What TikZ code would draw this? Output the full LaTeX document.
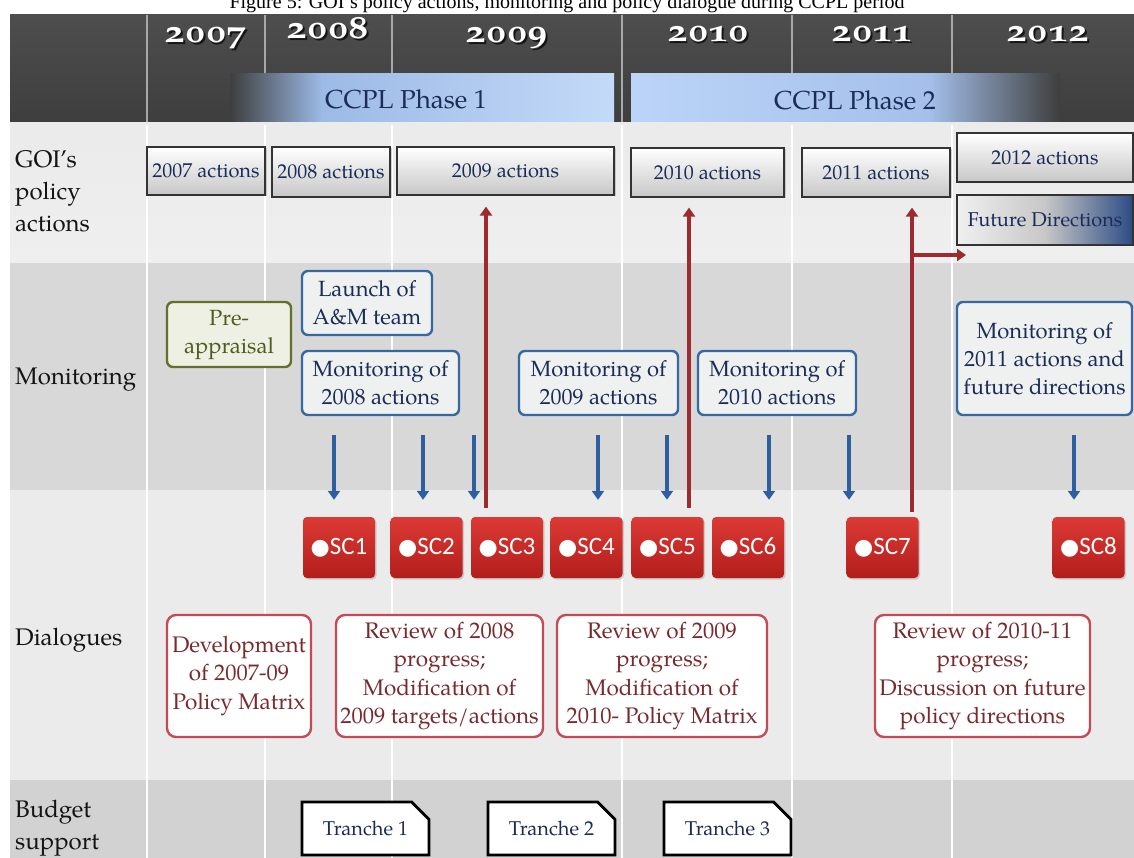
\documentclass[tikz,border=0pt]{standalone}
\usepackage{fontspec}
\usepackage{graphicx}
\setmainfont{texgyrepagella}[Extension=.otf, UprightFont=*-regular, BoldFont=*-bold, ItalicFont=*-italic, BoldItalicFont=*-bolditalic]
\newfontfamily\yearfont{texgyrepagella-bold.otf}[Numbers=OldStyle]
\newfontfamily\scfont{Carlito}
\newfontfamily\titlefont{Liberation Serif}
\newfontfamily\symfont{DejaVu Sans}
\usetikzlibrary{arrows.meta,shapes.misc,shadows}
\definecolor{hdr}{HTML}{3E3E3E}
\definecolor{hdrline}{HTML}{A8A8A8}
\definecolor{phA}{HTML}{9CBAE6}
\definecolor{phB}{HTML}{C4DAF8}
\definecolor{phC}{HTML}{BCD4F8}
\definecolor{phD}{HTML}{A4C0EA}
\definecolor{navy}{HTML}{1C2C58}
\definecolor{goibg}{HTML}{EFEFEF}
\definecolor{monbg}{HTML}{D8D8D8}
\definecolor{dlgbg}{HTML}{EBEBEB}
\definecolor{budbg}{HTML}{D2D2D2}
\definecolor{monborder}{HTML}{3868A2}
\definecolor{monfill}{HTML}{EEF1F0}
\definecolor{olive}{HTML}{66702C}
\definecolor{olivetext}{HTML}{4E5C20}
\definecolor{olivefill}{HTML}{EEF0E4}
\definecolor{scredtop}{HTML}{DC3A34}
\definecolor{scredbot}{HTML}{B21E1C}
\definecolor{dlgborder}{HTML}{C44A55}
\definecolor{dlgtext}{HTML}{7A2A2E}
\definecolor{arrred}{HTML}{9C2A2E}
\definecolor{arrblue}{HTML}{2F5E9E}
\definecolor{futblue}{HTML}{2C4C85}
\begin{document}
\begin{tikzpicture}[x=1pt,y=-1pt,
  titlelbl/.style={font=\titlefont\fontsize{20}{22}\selectfont, anchor=base, inner sep=0, text=black},
  yearlbl/.style={text=white, font=\yearfont\fontsize{32}{32}\selectfont, anchor=base, inner sep=0},
  yearshd/.style={text=black, opacity=0.7, font=\yearfont\fontsize{32}{32}\selectfont, anchor=base, inner sep=0},
  phaselbl/.style={text=navy, font=\fontsize{26}{26}\selectfont, inner sep=0},
  rowlbl/.style={font=\fontsize{24}{32}\selectfont, align=left, inner sep=0, text=black!92},
  actbox/.style={draw=black!80, line width=1.2pt, top color=white, bottom color=black!22, text=navy,
     font=\fontsize{20}{24}\selectfont, inner sep=0pt,
     drop shadow={shadow xshift=1.5pt, shadow yshift=-1.5pt, opacity=0.35}},
  futbox/.style={draw=black!80, line width=1.2pt, left color=black!6, right color=futblue, middle color=black!22, text=navy,
     font=\fontsize{20}{24}\selectfont, inner sep=0pt,
     drop shadow={shadow xshift=1.5pt, shadow yshift=-1.5pt, opacity=0.35}},
  monbox/.style={draw=monborder, line width=2.4pt, fill=monfill, rounded corners=6pt, text=navy,
     font=\fontsize{22}{28}\selectfont, align=center, inner sep=0pt},
  prebox/.style={draw=olive, line width=2.4pt, fill=olivefill, rounded corners=6pt, text=olivetext,
     font=\fontsize{22}{28}\selectfont, align=center, inner sep=0pt},
  scbox/.style={rounded corners=4pt, top color=scredtop, bottom color=scredbot, text=white,
     font=\scfont\fontsize{25}{25}\selectfont, inner sep=0pt, minimum width=72pt, minimum height=61pt,
     drop shadow={shadow xshift=1.5pt, shadow yshift=-1.5pt, opacity=0.3}},
  dlgbox/.style={draw=dlgborder, line width=2.4pt, fill=white, rounded corners=9pt, text=dlgtext,
     font=\fontsize{22.5}{28.5}\selectfont, align=center, inner sep=0pt, minimum height=122pt},
  trbox/.style={chamfered rectangle, chamfered rectangle corners=north east, chamfered rectangle xsep=10pt,
     chamfered rectangle ysep=10pt, draw=black, line width=2.8pt, fill=white, text=navy,
     font=\fontsize{20}{24}\selectfont, inner sep=0pt, minimum width=127pt, minimum height=53pt},
  redarr/.style={draw=arrred, line width=4.5pt, -{Triangle[width=12pt,length=9pt]}},
  bluearr/.style={draw=arrblue, line width=4pt, -{Triangle[width=12pt,length=9pt]}, shorten >=17pt},
  hdiv/.style={draw=hdrline, line width=1.2pt},
  bdiv/.style={draw=white, line width=1.6pt}
]
\useasboundingbox (0,0) rectangle (1134,858);
\clip (0,0) rectangle (1134,858);
\fill[white] (0,0) rectangle (1134,858);

% title (cut at top, as in the source)
\node[titlelbl] (title) at (567,9) {Figure 5: GOI’s policy actions, monitoring and policy dialogue during CCPL period};

% header band
\fill[top color=hdr!92!white, bottom color=hdr] (10,15) rectangle (1134,123);
\foreach \xx in {147,265,392,622,792,952} \draw[hdiv] (\xx,15) -- (\xx,123);

% phase bars
\fill[left color=hdr, right color=phA] (230,74) rectangle (322,124);
\fill[left color=phA, right color=phB] (321,74) rectangle (614,124);
\fill[left color=phC, right color=phD] (631,74) rectangle (930,126);
\fill[left color=phD, right color=hdr] (929,74) rectangle (1060,126);
\node[phaselbl] (ph1) at (406,99) {CCPL Phase 1};
\node[phaselbl] (ph2) at (855,100) {CCPL Phase 2};

% years
\foreach \nm/\xx/\yy in {2007/206/43, 2008/328/39, 2009/507/43, 2010/708/42, 2011/872/42, 2012/1048/42}{
  \node[yearshd] (ys\nm) at (\xx+1.8,\yy+1.8) {\scalebox{1.22}[1]{\nm}};
  \node[yearlbl] (y\nm) at (\xx,\yy) {\scalebox{1.22}[1]{\nm}};
}

% body bands
\fill[top color=white!92!black, bottom color=goibg] (10,123) rectangle (1134,263);
\fill[monbg] (10,263) rectangle (1134,490);
\fill[dlgbg] (10,490) rectangle (1134,780);
\fill[budbg] (10,780) rectangle (1134,858);
\foreach \xx in {147,265,392,622,792,952} \draw[bdiv] (\xx,125) -- (\xx,858);

% row labels
\node[rowlbl, anchor=north west] (lgoi) at (15,150) {GOI’s\\policy\\actions};
\node[rowlbl, anchor=base west] (lmon) at (15,384) {Monitoring};
\node[rowlbl, anchor=base west] (ldlg) at (15,645) {Dialogues};
\node[rowlbl, anchor=north west] (lbud) at (15,800) {Budget\\support};

% GOI policy actions
\node[actbox, minimum width=118pt, minimum height=48pt] (a2007) at (206,171) {2007 actions};
\node[actbox, minimum width=118pt, minimum height=50pt] (a2008) at (331,172) {2008 actions};
\node[actbox, minimum width=217pt, minimum height=48pt] (a2009) at (505.5,171) {2009 actions};
\node[actbox, minimum width=153pt, minimum height=49pt] (a2010) at (707.5,172.5) {2010 actions};
\node[actbox, minimum width=148pt, minimum height=49pt] (a2011) at (876,172.5) {2011 actions};
\node[actbox, minimum width=176pt, minimum height=49pt] (a2012) at (1045,157.5) {2012 actions};
\node[futbox, minimum width=176pt, minimum height=50pt] (fut) at (1045,220) {Future Directions};

% monitoring
\node[prebox, minimum width=124pt, minimum height=65pt] (pre) at (229,334.5) {Pre-\\appraisal};
\node[monbox, minimum width=130pt, minimum height=64pt] (launch) at (367,303) {Launch of\\A\&M team};
\node[monbox, minimum width=157pt, minimum height=64pt] (m2008) at (380.5,383) {Monitoring of\\2008 actions};
\node[monbox, minimum width=159pt, minimum height=64pt] (m2009) at (598.5,383) {Monitoring of\\2009 actions};
\node[monbox, minimum width=158pt, minimum height=64pt] (m2010) at (777,383) {Monitoring of\\2010 actions};
\node[monbox, minimum width=175pt, minimum height=113pt] (m2011) at (1044.5,358.5) {Monitoring of\\2011 actions and\\future directions};

% steering committees
\foreach \nm/\xx in {1/339,2/426.5,3/507,4/586.5,5/667.5,6/748,7/882.5,8/1088.5}{
  \node[scbox] (sc\nm) at (\xx,547.5) {{\symfont\fontsize{22}{22}\selectfont ●}SC\nm};
}

% dialogues
\node[dlgbox, minimum width=144pt] (d1) at (239,676) {Development\\of 2007-09\\Policy Matrix};
\node[dlgbox, minimum width=207pt] (d2) at (439.5,676) {Review of 2008\\progress;\\Modification of\\2009 targets/actions};
\node[dlgbox, minimum width=210pt] (d3) at (662,676) {Review of 2009\\progress;\\Modification of\\2010- Policy Matrix};
\node[dlgbox, minimum width=215pt] (d4) at (982.5,676) {Review of 2010-11\\progress;\\Discussion on future\\policy directions};

% budget support
\node[trbox] (t1) at (365.5,828.5) {Tranche 1};
\node[trbox] (t2) at (551.5,828.5) {Tranche 2};
\node[trbox] (t3) at (727.5,828.5) {Tranche 3};

% blue arrows: monitoring -> steering committees
\foreach \bx/\tg in {334/sc1, 423/sc2, 474/sc3, 598/sc4, 667/sc5, 769/sc6, 849/sc7, 1074/sc8}{
  \coordinate (b\tg) at (\bx,435);
  \draw[bluearr] (b\tg) -- (b\tg |- \tg.north);
}

% red arrows: steering committees -> policy actions
\coordinate (r1) at (486,0);
\coordinate (r2) at (689,0);
\coordinate (r3) at (912,0);
\draw[redarr, shorten <=9pt, shorten >=11pt] (sc3.north -| r1) -- (a2009.south -| r1);
\draw[redarr, shorten <=9pt, shorten >=10pt] (sc5.north -| r2) -- (a2010.south -| r2);
\draw[redarr, shorten <=5pt, shorten >=10pt] (sc7.north -| r3) -- (a2011.south -| r3);
\coordinate (r3b) at (910,255);
\coordinate (fdend) at (966,255);
\draw[redarr] (r3b) -- (fdend);
\end{tikzpicture}
\end{document}
